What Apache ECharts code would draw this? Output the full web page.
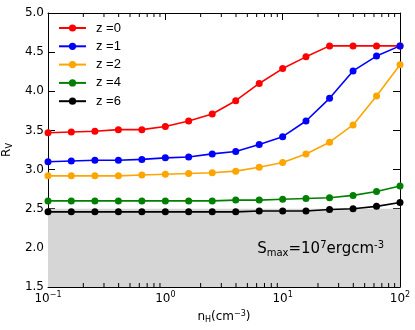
<!DOCTYPE html>
<html>
<head>
<meta charset="utf-8">
<script src="https://cdn.jsdelivr.net/npm/echarts@6/dist/echarts.min.js"></script>
<style>html,body{margin:0;padding:0;background:#fff;}#c{width:415px;height:330px;}</style>
</head>
<body>
<div id="c"></div>
<script>
const nH = [0.1, 0.158, 0.251, 0.398, 0.631, 1, 1.58, 2.51, 3.98, 6.31, 10, 15.8, 25.1, 39.8, 63.1, 100];
const z0 = [3.47, 3.48, 3.49, 3.51, 3.51, 3.55, 3.62, 3.71, 3.88, 4.10, 4.29, 4.44, 4.58, 4.58, 4.58, 4.58];
const z1 = [3.10, 3.11, 3.12, 3.12, 3.13, 3.15, 3.16, 3.20, 3.23, 3.32, 3.42, 3.62, 3.91, 4.26, 4.45, 4.58];
const z2 = [2.92, 2.92, 2.92, 2.92, 2.93, 2.94, 2.95, 2.96, 2.98, 3.03, 3.09, 3.20, 3.35, 3.57, 3.94, 4.34];
const z4 = [2.60, 2.60, 2.60, 2.60, 2.60, 2.60, 2.60, 2.60, 2.61, 2.61, 2.62, 2.63, 2.64, 2.67, 2.72, 2.79];
const z6 = [2.46, 2.46, 2.46, 2.46, 2.46, 2.46, 2.46, 2.46, 2.46, 2.47, 2.47, 2.47, 2.49, 2.50, 2.53, 2.58];
const names = ['z =0', 'z =1', 'z =2', 'z =4', 'z =6'];
const colors = ['#ff0000', '#0000ff', '#ffa500', '#008000', '#000000'];
const seriesValues = [z0, z1, z2, z4, z6];
const minorTicks = [0.2, 0.3, 0.4, 0.5, 0.6, 0.7, 0.8, 0.9, 2, 3, 4, 5, 6, 7, 8, 9, 20, 30, 40, 50, 60, 70, 80, 90];
const yMin = 1.5, yMax = 5.0, yStep = 0.5;
const shadeTop = 2.5;

const font = 'DejaVu Sans';
const supMap = {'-1': '\u22121', '0': '0', '1': '1', '2': '2'};

const chart = echarts.init(document.getElementById('c'), null, {renderer: 'canvas'});

const lineSeries = names.map((n, i) => ({
  name: n,
  type: 'line',
  data: nH.map((x, j) => [x, seriesValues[i][j]]),
  symbol: 'circle',
  symbolSize: 7,
  showSymbol: true,
  itemStyle: {color: colors[i]},
  lineStyle: {color: colors[i], width: 1.6},
  z: 5,
  animation: false
}));

const option = {
  animation: false,
  backgroundColor: '#fff',
  grid: {left: 48, right: 15, top: 13, bottom: 43, containLabel: false, outerBoundsMode: 'none'},
  legend: {
    orient: 'vertical',
    left: 58,
    top: 21,
    padding: 0,
    itemWidth: 27,
    itemHeight: 9,
    itemGap: 4.3,
    data: names,
    textStyle: {fontFamily: 'Liberation Sans', fontSize: 13, color: '#000', lineHeight: 14, padding: [0, 0, 0, 5]}
  },
  xAxis: [{
    type: 'log',
    logBase: 10,
    min: 0.1,
    max: 100,
    position: 'bottom',
    name: '{n|n}{s|H}{n|(cm}{p|\u22123}{n|)}',
    nameLocation: 'middle',
    nameGap: 23,
    nameTextStyle: {
      rich: {
        n: {fontFamily: font, fontSize: 12, color: '#000'},
        s: {fontFamily: font, fontSize: 8, color: '#000', verticalAlign: 'bottom', padding: [6, 0, 0, 0]},
        p: {fontFamily: font, fontSize: 8, color: '#000', verticalAlign: 'top', padding: [0, 0, 6, 0]}
      }
    },
    axisLine: {show: true, onZero: false, lineStyle: {color: '#000', width: 1}},
    axisTick: {show: true, inside: true, length: 7, lineStyle: {color: '#000'}},
    splitLine: {show: false},
    axisLabel: {
      margin: 4,
      formatter: function (v) {
        const e = Math.round(Math.log10(v));
        return '{b|10}{p|' + (supMap[String(e)] || e) + '}';
      },
      rich: {
        b: {fontFamily: font, fontSize: 12, color: '#000'},
        p: {fontFamily: font, fontSize: 8, color: '#000', verticalAlign: 'top', padding: [0, 0, 7, 0]}
      }
    }
  }, {
    type: 'log',
    logBase: 10,
    min: 0.1,
    max: 100,
    position: 'top',
    axisLine: {show: true, onZero: false, lineStyle: {color: '#000', width: 1}},
    axisTick: {show: true, inside: true, length: 7, lineStyle: {color: '#000'}},
    axisLabel: {show: false},
    splitLine: {show: false}
  }],
  yAxis: [{
    type: 'value',
    min: yMin,
    max: yMax,
    interval: yStep,
    position: 'left',
    name: '{n|R}{s|V}',
    nameLocation: 'middle',
    nameGap: 26,
    nameRotate: 90,
    nameTextStyle: {
      rich: {
        n: {fontFamily: font, fontSize: 12, color: '#000'},
        s: {fontFamily: font, fontSize: 8, color: '#000', verticalAlign: 'bottom', padding: [6, 0, 0, 0]}
      }
    },
    axisLine: {show: true, onZero: false, lineStyle: {color: '#000', width: 1}},
    axisTick: {show: true, inside: true, length: 7, lineStyle: {color: '#000'}},
    splitLine: {show: false},
    axisLabel: {
      margin: 4,
      fontFamily: font, fontSize: 12, color: '#000',
      formatter: v => v.toFixed(1)
    }
  }, {
    type: 'value',
    min: yMin,
    max: yMax,
    interval: yStep,
    position: 'right',
    axisLine: {show: true, onZero: false, lineStyle: {color: '#000', width: 1}},
    axisTick: {show: true, inside: true, length: 7, lineStyle: {color: '#000'}},
    axisLabel: {show: false},
    splitLine: {show: false}
  }],
  series: [{
    name: 'shade',
    type: 'line',
    data: [],
    z: 1,
    markArea: {
      silent: true,
      itemStyle: {color: '#d6d6d6'},
      data: [[{yAxis: yMin}, {yAxis: shadeTop}]]
    }
  }, {
    name: 'minor',
    type: 'custom',
    z: 3,
    silent: true,
    clip: false,
    data: minorTicks.map(v => [v, yMin]),
    renderItem: function (params, api) {
      const pb = api.coord([api.value(0), yMin]);
      const pt = api.coord([api.value(0), yMax]);
      const st = {stroke: '#000', lineWidth: 1};
      return {
        type: 'group',
        children: [
          {type: 'line', shape: {x1: pb[0], y1: pb[1], x2: pb[0], y2: pb[1] - 4}, style: st},
          {type: 'line', shape: {x1: pt[0], y1: pt[1], x2: pt[0], y2: pt[1] + 4}, style: st}
        ]
      };
    }
  }].concat(lineSeries),
  graphic: [{
    type: 'text',
    right: 31,
    top: 240,
    style: {
      text: '{n|S}{s|max}{n|=10}{p|7}{n|ergcm}{p|-3}',
      rich: {
        n: {fontFamily: font, fontSize: 15, fill: '#000'},
        s: {fontFamily: font, fontSize: 10, fill: '#000', verticalAlign: 'bottom', padding: [8, 0, 0, 0]},
        p: {fontFamily: font, fontSize: 10, fill: '#000', verticalAlign: 'top', padding: [0, 0, 8, 0]}
      }
    },
    z: 10
  }]
};
chart.setOption(option);
</script>
</body>
</html>
